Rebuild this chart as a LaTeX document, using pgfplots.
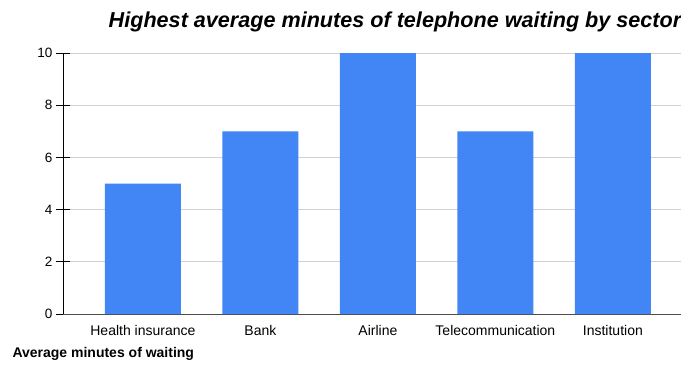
\documentclass[border=0pt]{standalone}
\usepackage{pgfplots}
\pgfplotsset{compat=1.18}
\usepackage{fontspec}
\setmainfont{Liberation Sans}
\definecolor{barblue}{HTML}{4285F4}
\begin{document}
\begin{tikzpicture}
\useasboundingbox (0,0) rectangle (681pt,365pt);
\begin{axis}[
  at={(63pt,51pt)}, anchor=south west,
  scale only axis, width=618pt, height=261pt,
  xmin=-0.68, xmax=4.58, ymin=0, ymax=10,
  ytick={0,2,...,10},
  xtick={0,1,2,3,4},
  xticklabels={Health insurance,Bank,Airline,\raisebox{-3pt}{Telecommunication},Institution},
  ymajorgrids, grid style={draw=black!18, line width=0.8pt},
  axis lines*=left,
  x axis line style={draw=black!70, line width=0.9pt},
  y axis line style={draw=black, line width=0.9pt},
  xtick style={draw=none},
  ytick style={draw=black, line width=0.9pt},
  tick align=center,
  major tick length=14pt,
  /pgf/number format/assume math mode=true,
  xticklabel style={font=\fontsize{14}{16}\selectfont, text=black, yshift=6pt},
  yticklabel style={font=\fontsize{13.5}{16}\selectfont, text=black},
  ybar, bar width=76pt,
]
\addplot[fill=barblue, draw=none] coordinates {(0,5) (1,7) (2,10) (3,7) (4,10)};
\end{axis}
\node at (395pt,343pt) {\fontsize{21.6}{26}\selectfont\bfseries\itshape Highest average minutes of telephone waiting by sector};
\node[anchor=west] at (9pt,11pt) {\fontsize{14}{16}\selectfont\bfseries Average minutes of waiting};
\end{tikzpicture}
\end{document}
